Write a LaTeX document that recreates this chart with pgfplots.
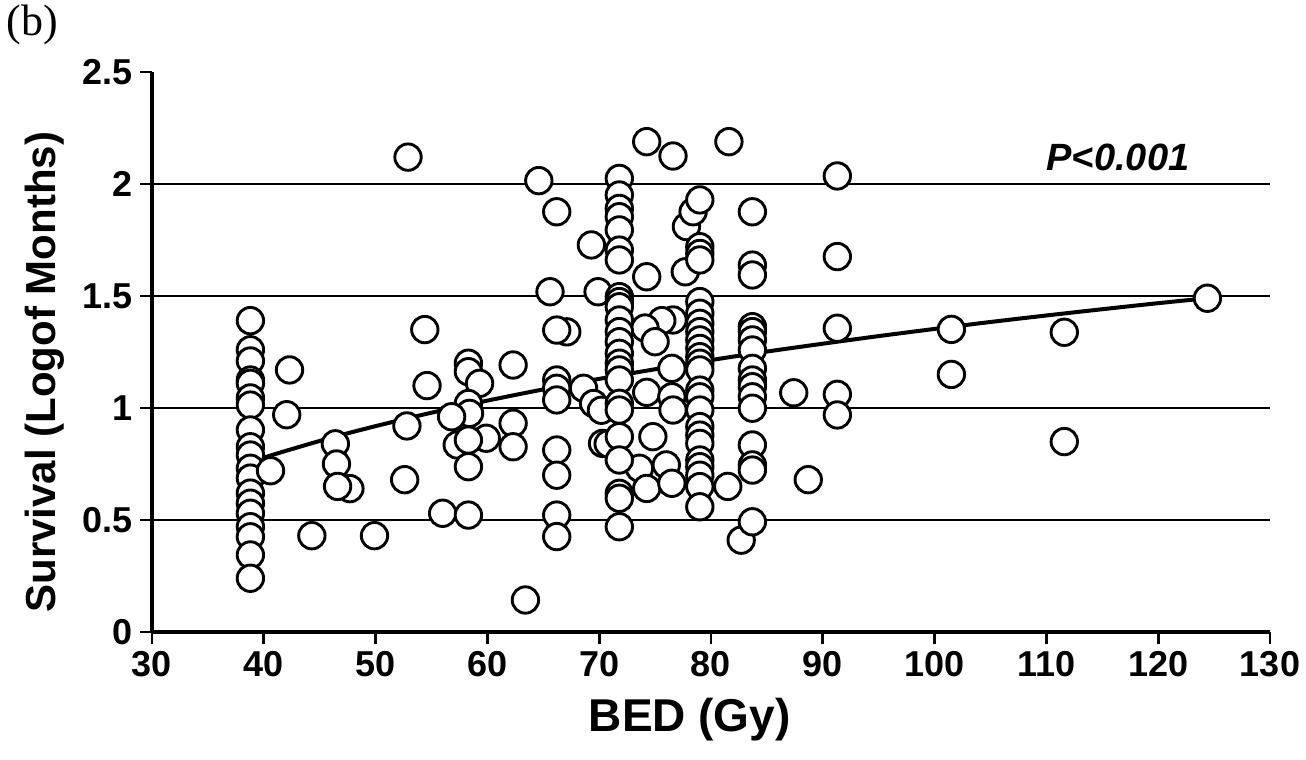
\documentclass[border=0pt]{standalone}
\usepackage{fontspec}
\setmainfont{Liberation Sans}
\newfontfamily\timesfont{Liberation Serif}
\usepackage{pgfplots}
\pgfplotsset{compat=1.18}

\begin{document}
\begin{tikzpicture}
\path[use as bounding box] (-76pt,-64pt) rectangle (577pt,316pt);
\begin{axis}[
  scale only axis, width=559pt, height=280pt,
  xmin=30, xmax=130, ymin=0, ymax=2.5,
  axis x line=bottom, axis y line=left,
  axis line style={-, line width=1.75pt, black},
  xtick={30,40,...,130}, ytick={0,0.5,1,1.5,2,2.5},
  yticklabels={0,0.5,1,1.5,2,{2.5\hspace{8pt}}},
  tick align=outside, major tick length=6pt,
  tick style={line width=1.4pt, black},
  tick label style={font=\bfseries\fontsize{18}{20}\selectfont},
  /pgf/number format/assume math mode=true,
  extra y ticks={0.5,1,1.5,2}, extra y tick labels={},
  extra y tick style={grid=major, major tick length=0pt},
  grid style={line width=1pt, black},
  xlabel={BED (Gy)},
  xlabel style={font=\bfseries\fontsize{23}{26}\selectfont, at={(axis description cs:0.481,-0.157)}, anchor=center},
  ylabel={Survival (Logof Months)},
  ylabel style={font=\bfseries\fontsize{21}{24}\selectfont, at={(axis description cs:-0.0957,0.464)}, anchor=center},
  clip=false,
]
% patients: BED against log survival
\addplot[only marks, mark=*, mark size=6.6pt,
  mark options={fill=white, draw=black, line width=1.45pt}] coordinates {
  (38.8,1.39) (38.8,1.26) (38.8,1.21) (38.8,1.125) (38.8,1.11) (38.8,1.045)
  (38.8,1.013) (38.8,0.902) (38.8,0.827) (38.8,0.79) (38.8,0.731) (38.8,0.687)
  (38.8,0.62) (38.8,0.575) (38.8,0.53) (38.8,0.47) (38.8,0.425) (38.8,0.344) (38.8,0.24)
  (42.3,1.17) (42.05,0.97) (40.6,0.72) (46.4,0.84) (46.5,0.75) (47.7,0.64) (46.6,0.65)
  (44.3,0.43) (49.9,0.43) (54.4,1.35) (54.6,1.10) (52.8,0.92) (52.6,0.68) (56.0,0.53)
  (52.9,2.12)
  (64.6,2.015) (66.2,1.876) (69.3,1.728) (65.6,1.519) (69.9,1.519) (67.1,1.34) (66.2,1.348)
  (58.3,1.20) (58.3,1.162) (59.3,1.11) (62.3,1.192) (66.2,1.125) (66.2,1.088) (66.2,1.036)
  (68.6,1.088) (69.5,1.02) (70.2,0.99) (58.3,1.02) (58.4,0.976) (56.8,0.961)
  (59.9,0.865) (57.3,0.835) (58.3,0.857) (62.3,0.932) (62.3,0.827) (58.3,0.738)
  (66.2,0.8125) (66.2,0.70) (70.3,0.842) (58.3,0.522) (66.2,0.522) (66.2,0.426) (63.4,0.143)
  (74.25,2.189) (76.6,2.125) (74.25,1.586) (77.7,1.608) (77.8,1.81) (78.4,1.876)
  (76.6,1.393) (75.6,1.39) (74.1,1.357) (75.0,1.296) (76.5,1.177) (74.25,1.07)
  (76.5,1.05) (76.6,0.991) (74.8,0.872) (76.0,0.746) (73.6,0.731) (74.25,0.641)
  (76.5,0.664) (70.8,0.84)
  (71.8,2.025) (71.8,1.951) (71.8,1.891) (71.8,1.854) (71.8,1.795) (71.8,1.705)
  (71.8,1.661) (71.8,1.497) (71.8,1.475) (71.8,1.452) (71.8,1.393) (71.8,1.341)
  (71.8,1.296) (71.8,1.244) (71.8,1.2) (71.8,1.17) (71.8,1.125) (71.8,1.021)
  (71.8,0.991) (71.8,0.872) (71.8,0.768) (71.8,0.619) (71.8,0.597) (71.8,0.47)
  (79.0,1.929) (79.0,1.72) (79.0,1.69) (79.0,1.661) (79.0,1.475) (79.0,1.423)
  (79.0,1.378) (79.0,1.341) (79.0,1.304) (79.0,1.266) (79.0,1.229) (79.0,1.2)
  (79.0,1.17) (79.0,1.08) (79.0,1.05) (79.0,0.991) (79.0,0.917) (79.0,0.879)
  (79.0,0.842) (79.0,0.768) (79.0,0.738) (79.0,0.70) (79.0,0.649) (79.0,0.559)
  (81.6,2.189) (81.5,0.65) (82.7,0.41)
  (83.7,1.876) (83.7,1.638) (83.7,1.594) (83.7,1.363) (83.7,1.341) (83.7,1.304)
  (83.7,1.259) (83.7,1.177) (83.7,1.125) (83.7,1.095) (83.7,1.05) (83.7,0.999)
  (83.7,0.835) (83.7,0.746) (83.7,0.723) (83.7,0.492)
  (87.4,1.068) (88.7,0.68)
  (91.3,2.036) (91.3,1.676) (91.3,1.356) (91.3,1.061) (91.3,0.969)
  (101.5,1.351) (101.5,1.150) (111.6,1.338) (111.6,0.85) (124.4,1.49)
};
% logarithmic trend line
\addplot[black, line width=2pt, no marks, smooth] coordinates {
  (38.8,0.760) (42,0.809) (46,0.867) (50,0.919) (55,0.979) (60,1.033)
  (65,1.083) (70,1.130) (75,1.173) (80,1.214) (85,1.252) (90,1.287)
  (95,1.321) (100,1.353) (105,1.384) (110,1.413) (115,1.441) (120,1.468) (124.4,1.490)
};
\node[font=\bfseries\itshape\fontsize{19}{22}\selectfont] at (axis cs:116.4,2.12) {P<0.001};
\end{axis}
\node[anchor=north west, inner sep=0pt, font=\timesfont\fontsize{22}{25}\selectfont] at (-73pt,313.5pt) {(b)};
\end{tikzpicture}
\end{document}
